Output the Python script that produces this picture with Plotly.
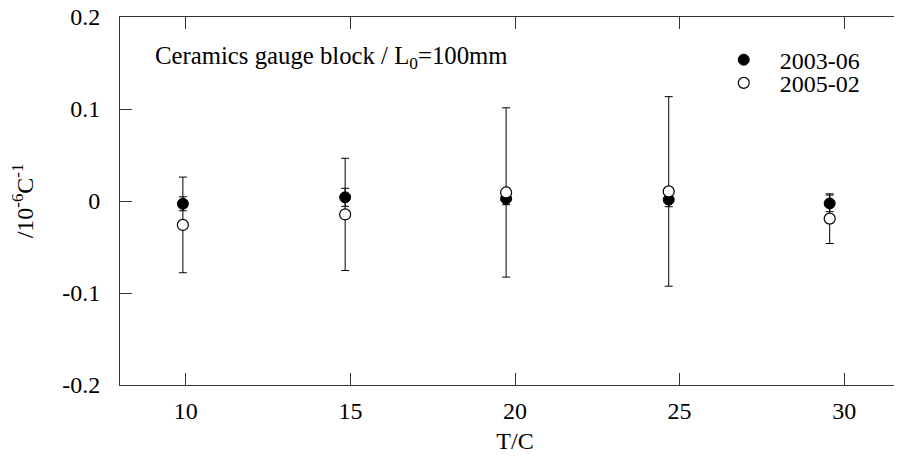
import plotly.graph_objects as go

# Data
temps_2003 = [9.91, 14.84, 19.73, 24.67, 29.56]
vals_2003 = [-0.003, 0.004, 0.0025, 0.0014, -0.0026]
errs_2003 = [0.0076, 0.0098, 0.0065, 0.0076, 0.009]

temps_2005 = [9.91, 14.84, 19.73, 24.67, 29.56]
vals_2005 = [-0.026, -0.0146, 0.0093, 0.0104, -0.0192]
errs_2005 = [0.052, 0.061, 0.092, 0.103, 0.027]

x_ticks = [10, 15, 20, 25, 30]
y_ticks = [-0.2, -0.1, 0, 0.1, 0.2]
y_ticklabels = ["-0.2", "-0.1", "0", "0.1", "0.2"]

FONT = "Liberation Serif"
FS = 24

fig = go.Figure()
fig.add_trace(go.Scatter(
    x=temps_2003, y=vals_2003, mode="markers", name="2003-06", legend="legend",
    marker=dict(symbol="circle", size=11, color="black", line=dict(color="black", width=1)),
    error_y=dict(type="data", array=errs_2003, visible=True, color="black", thickness=1, width=4),
))
fig.add_trace(go.Scatter(
    x=temps_2005, y=vals_2005, mode="markers", name="2005-02", legend="legend2",
    marker=dict(symbol="circle", size=11, color="white", line=dict(color="black", width=1.2)),
    error_y=dict(type="data", array=errs_2005, visible=True, color="black", thickness=1, width=4),
))

leg_common = dict(xanchor="left", yanchor="middle", bgcolor="rgba(0,0,0,0)",
                  font=dict(family=FONT, size=FS, color="black"), itemwidth=62,
                  borderwidth=0)

fig.update_layout(
    width=902, height=462,
    margin=dict(l=112, r=0, t=9, b=85, autoexpand=False),
    paper_bgcolor="white", plot_bgcolor="white",
    font=dict(family=FONT, size=FS, color="black"),
    showlegend=True,
    legend=dict(x=0.744, y=0.883, **leg_common),
    legend2=dict(x=0.744, y=0.820, **leg_common),
    xaxis=dict(range=[8, 32], tickvals=x_ticks, ticks="inside", ticklen=12,
               tickcolor="#333", showline=True, linecolor="#333", linewidth=1,
               mirror="ticks", showgrid=False, zeroline=False, automargin=False,
               tickfont=dict(family=FONT, size=FS, color="black"),
               ticklabelstandoff=4, ticklabeloverflow="allow",
               title=dict(text="T/C", standoff=9, font=dict(family=FONT, size=FS))),
    yaxis=dict(range=[-0.2, 0.2], tickvals=y_ticks, ticktext=y_ticklabels,
               ticks="inside", ticklen=12, tickcolor="#333", showline=True,
               linecolor="#333", linewidth=1, showgrid=False, zeroline=False,
               automargin=False,
               tickfont=dict(family=FONT, size=FS, color="black"),
               ticklabelstandoff=14, ticklabeloverflow="allow",
               title=dict(text="/10<sup>-6</sup>C<sup>-1</sup>", standoff=26,
                          font=dict(family=FONT, size=FS))),
    annotations=[dict(text="Ceramics gauge block / L<sub>0</sub>=100mm",
                      xref="paper", yref="paper", x=0.0418, y=0.891,
                      xanchor="left", yanchor="middle", showarrow=False,
                      font=dict(family=FONT, size=24.75))],
)

fig.write_html("out.html")
